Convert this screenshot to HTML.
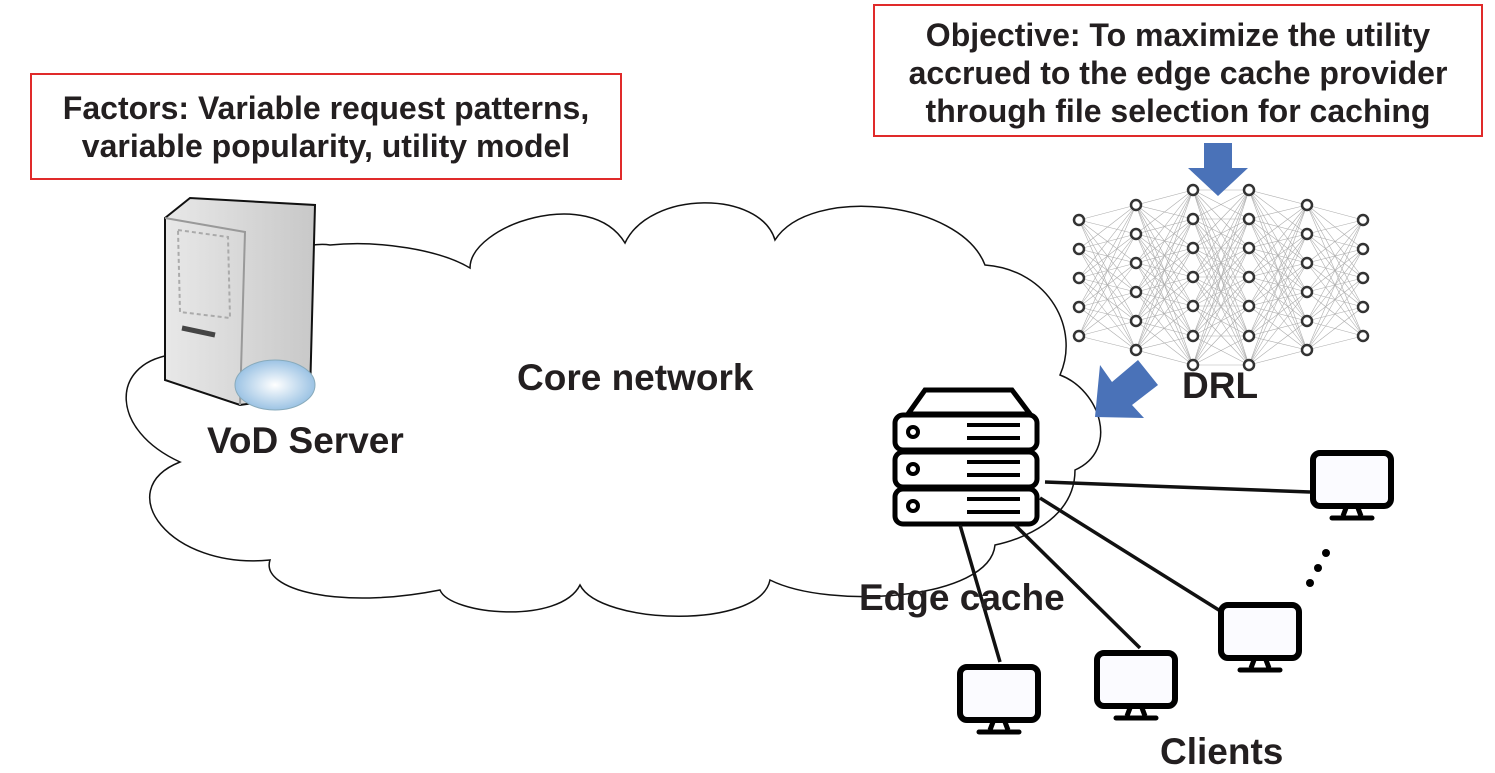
<!DOCTYPE html>
<html><head><style>
body{margin:0;width:1495px;height:770px;background:#fff;overflow:hidden;position:relative;font-family:"Liberation Sans",sans-serif;font-weight:bold;color:#231f20}
.box{position:absolute;border:2px solid #e02a2a;box-sizing:border-box;text-align:center;font-size:32px;line-height:38px;background:#fff;white-space:nowrap}
.t{position:absolute;font-size:37px;white-space:nowrap}
</style></head><body>
<svg width="1495" height="770" style="position:absolute;left:0;top:0">
<defs>
<linearGradient id="g1" x1="0" x2="1"><stop offset="0" stop-color="#e8e8e8"/><stop offset="1" stop-color="#c8c8c8"/></linearGradient>
<radialGradient id="g2"><stop offset="0" stop-color="#fff"/><stop offset="1" stop-color="#9cc3e4"/></radialGradient>
</defs>
<path d="M180,462 C110,430 110,365 170,355 L170,330 C200,270 300,240 330,245 C380,240 440,250 470,268 C470,225 590,185 625,243 C650,190 760,190 775,240 C810,185 960,200 985,265 C1050,270 1080,330 1060,375 C1100,390 1120,450 1075,470 C1075,520 1020,540 995,545 C990,600 830,610 770,580 C760,630 600,625 580,585 C560,625 450,615 440,590 C340,610 260,590 270,560 C170,570 110,490 180,462 Z" fill="#fff" stroke="#111" stroke-width="1.5"/>
<g stroke="#111" stroke-width="2">
<path d="M165,218 L190,198 L315,205 L310,395 L240,405 L165,380 Z" fill="url(#g1)"/>
<path d="M165,218 L245,232 L240,405" fill="none" stroke="#999"/>
</g>
<path d="M178,230 L228,237 L230,318 L180,312 Z" fill="none" stroke="#aaa" stroke-width="2" stroke-dasharray="4,3"/>
<path d="M182,328 L215,335" stroke="#444" stroke-width="5"/>
<ellipse cx="275" cy="385" rx="40" ry="25" fill="url(#g2)" stroke="#8ab" />
<g id="nn" stroke="#999" stroke-width="0.6" opacity="0.8"></g>
<g id="nodes" fill="#fff" stroke="#333" stroke-width="2.5"></g>
<path d="M1204,143 L1232,143 L1232,168 L1248,168 L1218,196 L1188,168 L1204,168 Z" fill="#4a72b8"/>
<path d="M1138,360 L1158,385 L1132,405 L1144,418 L1095,417 L1100,365 L1112,382 Z" fill="#4a72b8"/>
<g fill="#fff" stroke="#000" stroke-width="5">
<path d="M908,414 L925,390 L1012,390 L1030,414 Z"/>
<rect x="895" y="415" width="142" height="35" rx="8"/>
<rect x="895" y="452" width="142" height="35" rx="8"/>
<rect x="895" y="489" width="142" height="35" rx="8"/>
<circle cx="913" cy="432" r="5" stroke-width="4"/><circle cx="913" cy="469" r="5" stroke-width="4"/><circle cx="913" cy="506" r="5" stroke-width="4"/>
<path d="M967,425 H1020 M967,438 H1020 M967,462 H1020 M967,475 H1020 M967,499 H1020 M967,512 H1020" stroke-width="4"/>
</g>
<g stroke="#111" stroke-width="3.5">
<line x1="1045" y1="482" x2="1310" y2="492"/>
<line x1="1040" y1="498" x2="1222" y2="612"/>
<line x1="1015" y1="525" x2="1140" y2="648"/>
<line x1="960" y1="525" x2="1000" y2="662"/>
</g>
<g fill="#000"><circle cx="1310" cy="583" r="4"/><circle cx="1318" cy="568" r="4"/><circle cx="1326" cy="553" r="4"/></g>
<g id="mons"></g>
</svg>
<div class="box" style="left:30px;top:73px;width:592px;height:107px;padding-top:14px">Factors: Variable request patterns,<br>variable popularity, utility model</div>
<div class="box" style="left:873px;top:4px;width:610px;height:133px;padding-top:10px">Objective: To maximize the utility<br>accrued to the edge cache provider<br>through file selection for caching</div>
<div class="t" style="left:517px;top:357px">Core network</div>
<div class="t" style="left:207px;top:420px">VoD Server</div>
<div class="t" style="left:1182px;top:365px">DRL</div>
<div class="t" style="left:859px;top:577px">Edge cache</div>
<div class="t" style="left:1160px;top:731px">Clients</div>
<script>
var ns="http://www.w3.org/2000/svg";
var cols=[[1079,[220,249,278,307,336]],[1136,[205,234,263,292,321,350]],[1193,[190,219,248,277,306,336,365]],[1249,[190,219,248,277,306,336,365]],[1307,[205,234,263,292,321,350]],[1363,[220,249,278,307,336]]];
var nn=document.getElementById('nn'),nd=document.getElementById('nodes');
for(var i=0;i<cols.length-1;i++)for(var a of cols[i][1])for(var b of cols[i+1][1]){var l=document.createElementNS(ns,'line');l.setAttribute('x1',cols[i][0]);l.setAttribute('y1',a);l.setAttribute('x2',cols[i+1][0]);l.setAttribute('y2',b);nn.appendChild(l);}
for(var c of cols)for(var y of c[1]){var e=document.createElementNS(ns,'circle');e.setAttribute('cx',c[0]);e.setAttribute('cy',y);e.setAttribute('r',5);nd.appendChild(e);}
var m=document.getElementById('mons');
[[1310,450],[1218,602],[1094,650],[957,664]].forEach(function(p){var x=p[0],y=p[1];
m.innerHTML+='<rect x="'+(x+3)+'" y="'+(y+3)+'" width="78" height="53" rx="7" fill="#fbfbff" stroke="#000" stroke-width="6"/><path d="M'+(x+36)+','+(y+58)+' L'+(x+33)+','+(y+66)+' M'+(x+48)+','+(y+58)+' L'+(x+51)+','+(y+66)+'" stroke="#000" stroke-width="5"/><line x1="'+(x+22)+'" y1="'+(y+68)+'" x2="'+(x+62)+'" y2="'+(y+68)+'" stroke="#000" stroke-width="5" stroke-linecap="round"/>';});
</script>
</body></html>
